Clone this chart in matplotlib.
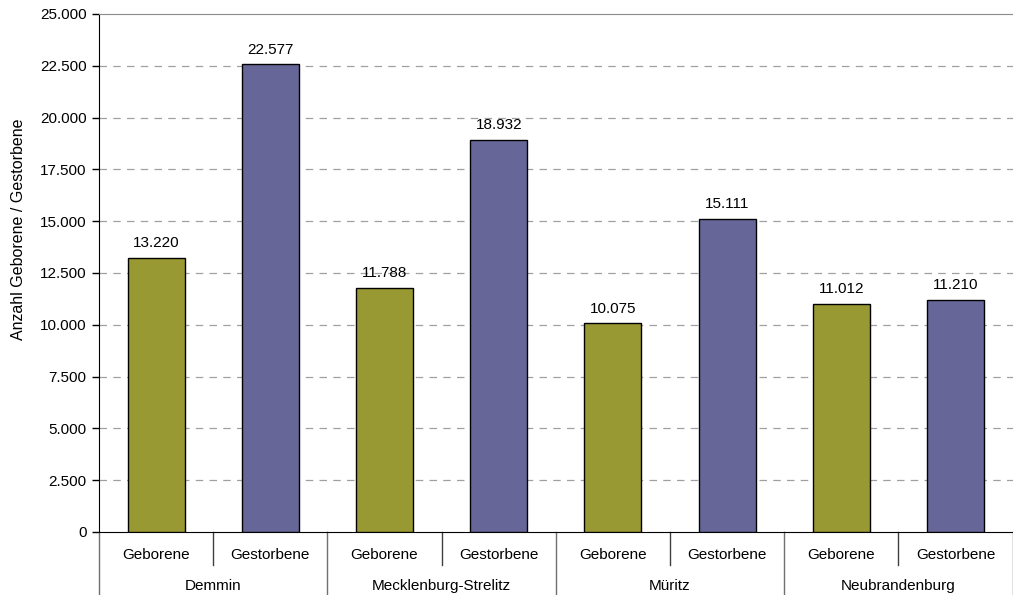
import matplotlib
matplotlib.use("Agg")
import matplotlib.pyplot as plt
from matplotlib.transforms import blended_transform_factory

plt.rcParams['font.family'] = ['Liberation Sans', 'DejaVu Sans']

regions = ["Demmin", "Mecklenburg-Strelitz", "Müritz", "Neubrandenburg"]
kinds = ["Geborene", "Gestorbene"]
geborene = [13220, 11788, 10075, 11012]
gestorbene = [22577, 18932, 15111, 11210]
yticks = [0, 2500, 5000, 7500, 10000, 12500, 15000, 17500, 20000, 22500, 25000]

col_geb = "#999933"
col_gest = "#666699"


def de_fmt(v):
    return f"{v:,}".replace(",", ".")


fig = plt.figure(figsize=(10.13, 5.95), dpi=100)
ax = fig.add_axes([0.0977, 0.1059, 0.902, 0.8706])

values = []
colors = []
labels = []
for g, s in zip(geborene, gestorbene):
    values += [g, s]
    colors += [col_geb, col_gest]
    labels += kinds
xs = list(range(len(values)))

ax.bar(xs, values, width=0.5, color=colors, edgecolor="black", linewidth=1.0, zorder=3)
for x, v in zip(xs, values):
    ax.annotate(de_fmt(v), (x, v), xytext=(0, 5.5), textcoords="offset points",
                ha="center", va="bottom", fontsize=11)

ax.set_xlim(-0.5, len(values) - 0.5)
ax.set_ylim(0, 25000)
ax.set_yticks(yticks)
ax.set_yticklabels([de_fmt(t) for t in yticks], fontsize=11)
ax.set_xticks([])
ax.tick_params(axis="y", direction="out", length=5, width=1, color="black", pad=4)

for t in yticks[1:-1]:
    ax.axhline(t, color="#a0a0a0", linewidth=0.9, linestyle=(0, (6, 5)), zorder=1)

ax.spines["right"].set_visible(False)
ax.spines["top"].set_color("#8c8c8c")
ax.spines["left"].set_color("black")
ax.spines["bottom"].set_color("black")

ax.set_ylabel("Anzahl Geborene / Gestorbene", fontsize=11.5)
ax.yaxis.set_label_coords(-0.080, 0.585)

trans = blended_transform_factory(ax.transData, ax.transAxes)
for i in range(len(values) + 1):
    xb = i - 0.5
    if i % 2 == 0:
        ax.plot([xb, xb], [0, -0.125], transform=trans, color="#707070", linewidth=1.0, clip_on=False)
    else:
        ax.plot([xb, xb], [0, -0.064], transform=trans, color="#404040", linewidth=1.0, clip_on=False)

for x, lab in zip(xs, labels):
    ax.text(x, -0.044, lab, transform=trans, ha="center", va="center", fontsize=11)
for k, reg in enumerate(regions):
    ax.text(2 * k + 0.5, -0.104, reg, transform=trans, ha="center", va="center", fontsize=11)

fig.savefig("out.png", dpi=100)
